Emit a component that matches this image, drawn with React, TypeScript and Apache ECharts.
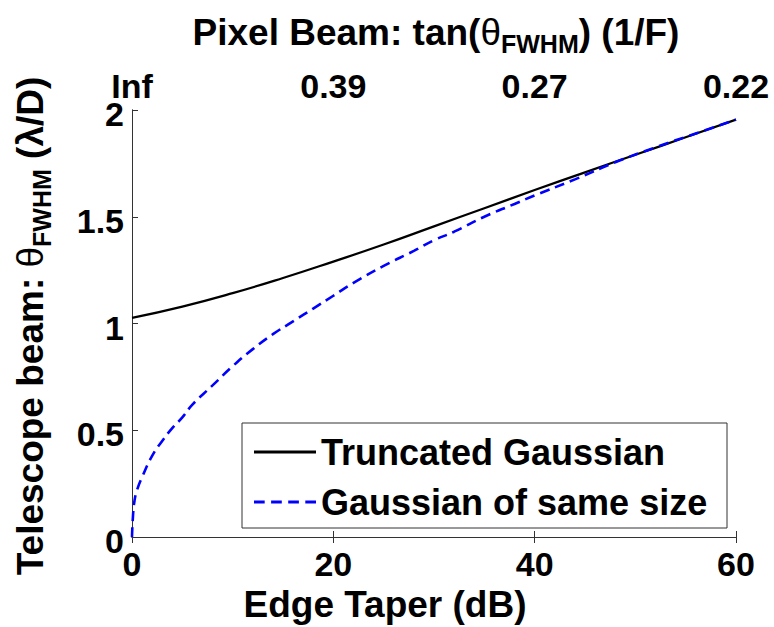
import React, { useEffect, useRef } from "react";
import * as echarts from "echarts";

const taperX = [0, 5, 10, 15, 20, 25, 30, 35, 40, 45, 50, 55, 60];
const truncatedY = [1.026, 1.079, 1.142, 1.213, 1.29, 1.37, 1.455, 1.54, 1.625, 1.708, 1.79, 1.872, 1.955];

const gaussX = [0, 0.1, 0.25, 0.5, 1, 2, 3, 4, 5, 6, 8, 10, 12, 14, 16, 18, 20, 22, 25, 28, 30, 32, 35, 38, 40, 44, 48, 52, 56, 60];
const gaussY = [0, 0.1, 0.17, 0.22, 0.28, 0.38, 0.45, 0.51, 0.56, 0.62, 0.71, 0.8, 0.88, 0.95, 1.01, 1.07, 1.13, 1.19, 1.27, 1.34, 1.39, 1.43, 1.5, 1.56, 1.6, 1.675, 1.755, 1.825, 1.89, 1.955];

const bottomTicks = [0, 20, 40, 60];
const topTickLabels = ["Inf", "0.39", "0.27", "0.22"];
const seriesNames = ["Truncated Gaussian", "Gaussian of same size"];

const FONT = "'Liberation Sans', Arial, Helvetica, sans-serif";

export default function App() {
  const ref = useRef<HTMLDivElement>(null);
  useEffect(() => {
    if (!ref.current) return;
    const chart = echarts.init(ref.current, null, { renderer: "svg" });
    const axisColor = "#333";
    const labelStyle = { color: "#000", fontFamily: FONT, fontWeight: "bold" as const, fontSize: 34 };
    const richTitle = {
      a: { fontFamily: FONT, fontSize: 37, fontWeight: "bold", fill: "#000", color: "#000", lineHeight: 44 },
      t: { fontFamily: FONT, fontSize: 37, fontWeight: "normal", fill: "#000", color: "#000", lineHeight: 44 },
      s: { fontFamily: FONT, fontSize: 25, fontWeight: "bold", fill: "#000", color: "#000", padding: [24, 0, 0, 0], lineHeight: 44 },
    };
    chart.setOption({
      animation: false,
      backgroundColor: "#fff",
      textStyle: { fontFamily: FONT },
      grid: { left: 132, top: 110, width: 604, height: 427, containLabel: false },
      legend: {
        orient: "vertical",
        left: 242,
        top: 423,
        padding: [11, 6, 8, 12],
        itemGap: 14,
        itemWidth: 62,
        itemHeight: 3,
        symbolKeepAspect: false,
        borderColor: "#333",
        borderWidth: 1,
        backgroundColor: "#fff",
        textStyle: { ...labelStyle, fontSize: 36, lineHeight: 36, width: 400 },
        data: [
          { name: seriesNames[0], icon: "path://M0,0h62v3h-62z" },
          { name: seriesNames[1], icon: "path://M0,0h10v3h-10zM16,0h10v3h-10zM32,0h10v3h-10zM48,0h10v3h-10z" },
        ],
      },
      xAxis: [
        {
          type: "value",
          position: "bottom",
          min: 0,
          max: 60,
          interval: 20,
          axisLine: { show: true, lineStyle: { color: axisColor, width: 1 } },
          axisTick: { show: true, inside: true, length: 6, lineStyle: { color: axisColor } },
          axisLabel: { ...labelStyle, margin: 10 },
          splitLine: { show: false },
        },
        {
          type: "value",
          position: "top",
          min: 0,
          max: 60,
          interval: 20,
          axisLine: { show: true, lineStyle: { color: axisColor, width: 1 } },
          axisTick: { show: true, inside: true, length: 6, lineStyle: { color: axisColor } },
          axisLabel: {
            ...labelStyle,
            margin: 7,
            formatter: (v: number) => {
              const i = bottomTicks.indexOf(v);
              return i >= 0 ? topTickLabels[i] : "";
            },
          },
          splitLine: { show: false },
        },
      ],
      yAxis: [
        {
          type: "value",
          position: "left",
          min: 0,
          max: 2,
          interval: 0.5,
          axisLine: { show: true, lineStyle: { color: axisColor, width: 1 } },
          axisTick: { show: true, inside: true, length: 6, lineStyle: { color: axisColor } },
          axisLabel: { ...labelStyle, margin: 8, verticalAlign: "top", lineHeight: 8 },
          splitLine: { show: false },
        },
        {
          type: "value",
          position: "right",
          min: 0,
          max: 2,
          interval: 0.5,
          axisLine: { show: true, lineStyle: { color: axisColor, width: 1 } },
          axisTick: { show: false },
          axisLabel: { show: false },
          splitLine: { show: false },
        },
      ],
      graphic: [
        {
          type: "text",
          x: 436,
          y: 32,
          style: {
            text: "{a|Pixel Beam: tan(}{t|θ}{s|FWHM}{a|) (1/F)}",
            align: "center",
            verticalAlign: "middle",
            rich: richTitle,
          },
        },
        {
          type: "text",
          x: 385,
          y: 604,
          style: {
            text: "Edge Taper (dB)",
            align: "center",
            verticalAlign: "middle",
            fontFamily: FONT,
            fontSize: 37,
            fontWeight: "bold",
            fill: "#000",
          },
        },
        {
          type: "text",
          x: 30,
          y: 326,
          rotation: Math.PI / 2,
          style: {
            text: "{a|Telescope beam: }{t|θ}{s|FWHM}{a| (λ/D)}",
            align: "center",
            verticalAlign: "middle",
            rich: richTitle,
          },
        },
      ],
      series: [
        {
          name: seriesNames[0],
          type: "line",
          xAxisIndex: 0,
          yAxisIndex: 0,
          showSymbol: false,
          symbol: "none",
          smooth: true,
          lineStyle: { color: "#000", width: 2.2, type: "solid" },
          itemStyle: { color: "#000" },
          data: taperX.map((x, i) => [x, truncatedY[i]]),
        },
        {
          name: seriesNames[1],
          type: "line",
          xAxisIndex: 0,
          yAxisIndex: 0,
          showSymbol: false,
          symbol: "none",
          smooth: true,
          lineStyle: { color: "#0000ff", width: 2.6, type: [10, 6] },
          itemStyle: { color: "#0000ff" },
          data: gaussX.map((x, i) => [x, gaussY[i]]),
        },
      ],
    });
    return () => chart.dispose();
  }, []);
  return <div ref={ref} style={{ width: 774, height: 627, position: "absolute", left: 0, top: 0 }} />;
}
